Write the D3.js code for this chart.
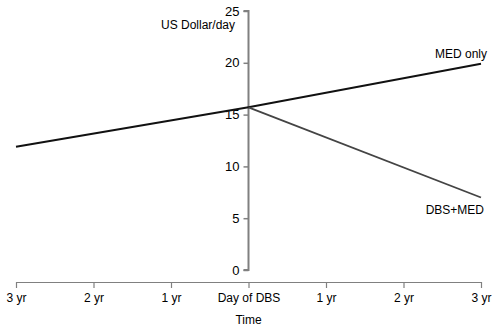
<!DOCTYPE html>
<html><head><meta charset="utf-8">
<script src="https://cdn.jsdelivr.net/npm/d3@7"></script>
<style>body{margin:0;background:#fff}svg{display:block}text{font-family:"Liberation Sans",Arial,sans-serif;font-size:12px;fill:#000}</style>
</head><body><svg id="c" width="500" height="329"></svg>
<script>
const xTicks = [-3, -2, -1, 0, 1, 2, 3];
const xTickLabels = ["3 yr", "2 yr", "1 yr", "Day of DBS", "1 yr", "2 yr", "3 yr"];
const yTicks = [0, 5, 10, 15, 20, 25];
const medOnlyX = [-3, 0, 3];
const medOnlyY = [11.9, 15.7, 19.9];
const dbsMedX = [0, 3];
const dbsMedY = [15.7, 7.0];
const seriesLabels = ["MED only", "DBS+MED"];

const svg = d3.select("#c");
const x = d3.scaleLinear().domain([-3, 3]).range([16, 481]);
const y = d3.scaleLinear().domain([0, 25]).range([270, 11]);
const axisColor = "#808080";

const gy = svg.append("g").attr("transform", `translate(${x(0)},0)`)
  .call(d3.axisLeft(y).tickValues(yTicks).tickSize(5).tickPadding(4));
gy.select(".domain").attr("stroke", axisColor).attr("stroke-width", 2).attr("d", `M-5,${y(0)}H0V${y(25)}H-5`);
gy.selectAll(".tick line").attr("stroke", axisColor).attr("stroke-width", 1.5);
gy.selectAll(".tick text").style("font-size", "13px");

const gx = svg.append("g").attr("transform", "translate(0,282)")
  .call(d3.axisBottom(x).tickValues(xTicks).tickFormat((d, i) => xTickLabels[i]).tickSize(6).tickPadding(5).tickSizeOuter(0));
gx.select(".domain").attr("stroke", axisColor).attr("stroke-width", 1.2);
gx.selectAll(".tick line").attr("stroke", axisColor).attr("stroke-width", 1.2);
gx.selectAll(".tick text").style("font-size", "12px");

svg.append("text").attr("x", x(0)).attr("y", 324).attr("text-anchor", "middle").text("Time");
svg.append("text").attr("x", 235).attr("y", 29).attr("text-anchor", "end").text("US Dollar/day");

const line = d3.line().x(d => x(d[0])).y(d => y(d[1]));
svg.append("path").attr("d", line(medOnlyX.map((v, i) => [v, medOnlyY[i]])))
  .attr("fill", "none").attr("stroke", "#111").attr("stroke-width", 2);
svg.append("path").attr("d", line(dbsMedX.map((v, i) => [v, dbsMedY[i]])))
  .attr("fill", "none").attr("stroke", "#444").attr("stroke-width", 1.8);

svg.append("text").attr("x", 487).attr("y", 58).attr("text-anchor", "end").text(seriesLabels[0]);
svg.append("text").attr("x", 484).attr("y", 214).attr("text-anchor", "end").text(seriesLabels[1]);
</script></body></html>
